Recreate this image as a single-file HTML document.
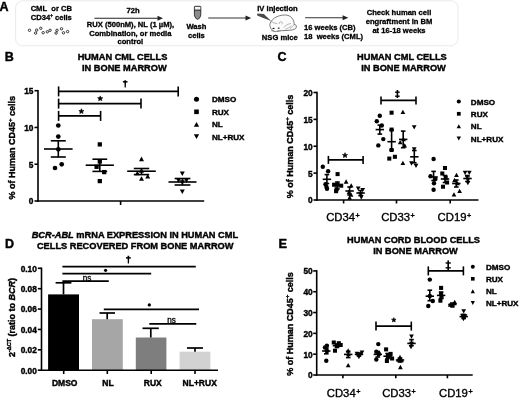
<!DOCTYPE html><html><head><meta charset="utf-8"><style>html,body{margin:0;padding:0;background:#fff;}svg{display:block;filter:grayscale(100%) blur(0.25px);}text{font-family:"Liberation Sans",sans-serif;}</style></head><body>
<svg width="520" height="398" viewBox="0 0 520 398">
<rect width="520" height="398" fill="#fff"/>
<text x="-0.60" y="10.60" font-size="12.5" font-weight="bold" text-anchor="start" fill="#000" stroke="#000" stroke-width="0.4">A</text>
<rect x="15.6" y="0.8" width="442.4" height="45" rx="7" ry="7" fill="none" stroke="#eaeaea" stroke-width="1"/>
<text x="51.30" y="11.20" font-size="7.6" font-weight="bold" text-anchor="middle" fill="#000" stroke="#000" stroke-width="0.3">CML&#160;&#160;or CB</text>
<text x="51.30" y="19.70" font-size="7.6" font-weight="bold" text-anchor="middle" fill="#000" stroke="#000" stroke-width="0.3">CD34<tspan font-size="4.5" dy="-2.8">+</tspan><tspan dy="2.8"> cells</tspan></text>
<circle cx="29.5" cy="30.3" r="1.2" fill="none" stroke="#1a1a1a" stroke-width="0.85"/>
<circle cx="36.7" cy="30.1" r="1.2" fill="none" stroke="#1a1a1a" stroke-width="0.85"/>
<circle cx="35.6" cy="33.1" r="1.2" fill="none" stroke="#1a1a1a" stroke-width="0.85"/>
<circle cx="40.8" cy="28.3" r="1.2" fill="none" stroke="#1a1a1a" stroke-width="0.85"/>
<circle cx="43.2" cy="32.7" r="1.2" fill="none" stroke="#1a1a1a" stroke-width="0.85"/>
<circle cx="47.3" cy="31.8" r="1.2" fill="none" stroke="#1a1a1a" stroke-width="0.85"/>
<circle cx="50.1" cy="30.3" r="1.2" fill="none" stroke="#1a1a1a" stroke-width="0.85"/>
<circle cx="57" cy="30.3" r="1.2" fill="none" stroke="#1a1a1a" stroke-width="0.85"/>
<circle cx="56.1" cy="33.1" r="1.2" fill="none" stroke="#1a1a1a" stroke-width="0.85"/>
<circle cx="61.5" cy="28.8" r="1.2" fill="none" stroke="#1a1a1a" stroke-width="0.85"/>
<circle cx="63.5" cy="32.8" r="1.2" fill="none" stroke="#1a1a1a" stroke-width="0.85"/>
<circle cx="67.6" cy="31.6" r="1.2" fill="none" stroke="#1a1a1a" stroke-width="0.85"/>
<text x="133.00" y="13.00" font-size="7.6" font-weight="bold" text-anchor="middle" fill="#000" stroke="#000" stroke-width="0.3">72h</text>
<line x1="94.40" y1="18.30" x2="159.00" y2="18.30" stroke="#222" stroke-width="1.1"/>
<path d="M163 18.3L157.5 15.8L157.5 20.8Z" fill="#222"/>
<text x="130.50" y="27.00" font-size="7.6" font-weight="bold" text-anchor="middle" fill="#000" stroke="#000" stroke-width="0.3">RUX (500nM), NL (1 µM),</text>
<text x="130.30" y="35.60" font-size="7.6" font-weight="bold" text-anchor="middle" fill="#000" stroke="#000" stroke-width="0.3">Combination, or media</text>
<text x="130.30" y="43.90" font-size="7.6" font-weight="bold" text-anchor="middle" fill="#000" stroke="#000" stroke-width="0.3">control</text>
<path d="M194.4 6.9 Q194.4 6.3 195 6.3 L200.2 6.3 Q200.8 6.3 200.8 6.9 L200.8 14.5 Q200.8 16 199.6 17.9 Q198.7 19.3 197.6 19.3 Q196.5 19.3 195.6 17.9 Q194.4 16 194.4 14.5 Z" fill="#8c8c8c" stroke="#222" stroke-width="0.9"/>
<rect x="194.9" y="6.9" width="5.4" height="2.8" fill="#f4f4f4"/>
<line x1="194.40" y1="10.20" x2="200.80" y2="10.20" stroke="#222" stroke-width="0.9"/>
<text x="196.40" y="28.60" font-size="7.6" font-weight="bold" text-anchor="middle" fill="#000" stroke="#000" stroke-width="0.3">Wash</text>
<text x="196.40" y="37.80" font-size="7.6" font-weight="bold" text-anchor="middle" fill="#000" stroke="#000" stroke-width="0.3">cells</text>
<line x1="208.20" y1="18.00" x2="246.00" y2="18.00" stroke="#333" stroke-width="1.1"/>
<path d="M251.2 18L245.5 15.5L245.5 20.5Z" fill="#222"/>
<text x="277.50" y="10.70" font-size="7.6" font-weight="bold" text-anchor="middle" fill="#000" stroke="#000" stroke-width="0.3">IV injection</text>
<path d="M257.2 13.6 L263.8 13.9 L271.2 21 L262 17.6 L257.2 15.6 Z" fill="#4a4a4a"/>
<path d="M269.8 24.5 C270.5 21 273.5 18 277 16.6 C280.5 15 285 14.6 288 15.4 C291 16.2 293 18.8 293.9 21.8 C294.2 23 294.2 24 294 24.4 C295.5 24.3 296.6 25.5 296.4 27 C296.2 28.6 294.5 29.6 292.5 29.9 C289 30.4 285 30.6 281.5 30.7 C279 30.9 277 31.4 275.5 31.6 C273.5 31.4 271.8 30 271 28.5 C270.2 27.2 269.7 25.8 269.8 24.5 Z" fill="#fbfbfb" stroke="#5e5e5e" stroke-width="0.8"/>
<path d="M279.2 24 C279 22.5 280 21.6 281.3 21.8 C282.4 22 282.6 23.4 281.8 24.3 M283.5 27.8 C285.5 25.5 288 23.8 291 23.5 M294 24.4 C293.5 26 292 27.5 290 28.5 M271.2 21.6 C273 22.6 275 23.4 277.2 23.6 M285 29.5 C287.5 28.5 289.5 27.5 291.5 26" fill="none" stroke="#8a8a8a" stroke-width="0.6"/>
<ellipse cx="273.5" cy="28.4" rx="1.05" ry="0.7" fill="#111"/><ellipse cx="278.7" cy="28.1" rx="1.05" ry="0.7" fill="#111"/>
<path d="M271 30.6 L274.5 31.3 M277 31.2 L280.5 30.8" stroke="#555" stroke-width="0.55"/>
<text x="279.80" y="39.60" font-size="7.6" font-weight="bold" text-anchor="middle" fill="#000" stroke="#000" stroke-width="0.3">NSG mice</text>
<line x1="305.10" y1="17.70" x2="343.00" y2="17.70" stroke="#333" stroke-width="1.1"/>
<path d="M348.3 17.7L342.6 15.2L342.6 20.2Z" fill="#222"/>
<text x="304.00" y="30.20" font-size="7.6" font-weight="bold" text-anchor="start" fill="#000" stroke="#000" stroke-width="0.3">16 weeks (CB)</text>
<text x="304.00" y="39.20" font-size="7.6" font-weight="bold" text-anchor="start" fill="#000" stroke="#000" stroke-width="0.3">18&#160;&#160;weeks (CML)</text>
<text x="399.00" y="15.00" font-size="7.6" font-weight="bold" text-anchor="middle" fill="#000" stroke="#000" stroke-width="0.3">Check human cell</text>
<text x="399.00" y="24.00" font-size="7.6" font-weight="bold" text-anchor="middle" fill="#000" stroke="#000" stroke-width="0.3">engraftment in BM</text>
<text x="399.00" y="32.70" font-size="7.6" font-weight="bold" text-anchor="middle" fill="#000" stroke="#000" stroke-width="0.3">at 16-18 weeks</text>
<text x="4.80" y="60.80" font-size="12.5" font-weight="bold" text-anchor="start" fill="#000" stroke="#000" stroke-width="0.4">B</text>
<text transform="translate(122.50,59.70) scale(1,1.06)" x="0" y="0" font-size="9.25" font-weight="bold" text-anchor="middle" fill="#000" stroke="#000" stroke-width="0.4">HUMAN CML CELLS</text>
<text transform="translate(124.35,70.50) scale(1,1.06)" x="0" y="0" font-size="9.25" font-weight="bold" text-anchor="middle" fill="#000" stroke="#000" stroke-width="0.4">IN BONE MARROW</text>
<line x1="38.00" y1="89.90" x2="38.00" y2="201.80" stroke="#000" stroke-width="1.6"/>
<line x1="37.20" y1="201.00" x2="204.20" y2="201.00" stroke="#000" stroke-width="1.6"/>
<line x1="120.60" y1="201.00" x2="120.60" y2="205.00" stroke="#000" stroke-width="1.6"/>
<line x1="34.50" y1="201.00" x2="38.00" y2="201.00" stroke="#000" stroke-width="1.6"/>
<text x="33.40" y="204.40" font-size="8.3" font-weight="bold" text-anchor="end" fill="#000" stroke="#000" stroke-width="0.4">0</text>
<line x1="34.50" y1="164.23" x2="38.00" y2="164.23" stroke="#000" stroke-width="1.6"/>
<text x="33.40" y="167.63" font-size="8.3" font-weight="bold" text-anchor="end" fill="#000" stroke="#000" stroke-width="0.4">5</text>
<line x1="34.50" y1="127.47" x2="38.00" y2="127.47" stroke="#000" stroke-width="1.6"/>
<text x="33.40" y="130.87" font-size="8.3" font-weight="bold" text-anchor="end" fill="#000" stroke="#000" stroke-width="0.4">10</text>
<line x1="34.50" y1="90.70" x2="38.00" y2="90.70" stroke="#000" stroke-width="1.6"/>
<text x="33.40" y="94.10" font-size="8.3" font-weight="bold" text-anchor="end" fill="#000" stroke="#000" stroke-width="0.4">15</text>
<text transform="translate(15.20,147.70) rotate(-90)" x="0" y="0" font-size="9" font-weight="bold" text-anchor="middle" fill="#000" stroke="#000" stroke-width="0.4">% of Human CD45<tspan font-size="6" dy="-3.2">+</tspan><tspan dy="3.2"> cells</tspan></text>
<line x1="58.60" y1="91.40" x2="178.20" y2="91.40" stroke="#000" stroke-width="1.6"/>
<line x1="58.60" y1="86.40" x2="58.60" y2="96.40" stroke="#000" stroke-width="1.6"/>
<line x1="178.20" y1="86.40" x2="178.20" y2="96.40" stroke="#000" stroke-width="1.6"/>
<line x1="58.60" y1="103.60" x2="141.00" y2="103.60" stroke="#000" stroke-width="1.6"/>
<line x1="58.60" y1="98.60" x2="58.60" y2="108.60" stroke="#000" stroke-width="1.6"/>
<line x1="141.00" y1="98.60" x2="141.00" y2="108.60" stroke="#000" stroke-width="1.6"/>
<line x1="58.60" y1="115.90" x2="100.60" y2="115.90" stroke="#000" stroke-width="1.6"/>
<line x1="58.60" y1="110.90" x2="58.60" y2="120.90" stroke="#000" stroke-width="1.6"/>
<line x1="100.60" y1="110.90" x2="100.60" y2="120.90" stroke="#000" stroke-width="1.6"/>
<path d="M124.35 80.20L126.05 80.20L125.80 87.60L124.60 87.60Z" fill="#000"/>
<rect x="122.90" y="81.05" width="4.60" height="1.5" fill="#000"/>
<path d="M100.20 95.90L100.91 97.62L102.77 97.77L101.36 98.98L101.79 100.78L100.20 99.81L98.61 100.78L99.04 98.98L97.63 97.77L99.49 97.62Z" fill="#000" stroke="#000" stroke-width="0.6" stroke-linejoin="round"/>
<path d="M81.40 108.70L82.11 110.42L83.97 110.57L82.56 111.78L82.99 113.58L81.40 112.62L79.81 113.58L80.24 111.78L78.83 110.57L80.69 110.42Z" fill="#000" stroke="#000" stroke-width="0.6" stroke-linejoin="round"/>
<circle cx="58.30" cy="125.50" r="2.34" fill="#000"/>
<circle cx="58.30" cy="136.60" r="2.34" fill="#000"/>
<circle cx="58.30" cy="149.30" r="2.34" fill="#000"/>
<circle cx="61.70" cy="164.30" r="2.34" fill="#000"/>
<circle cx="55.00" cy="168.00" r="2.34" fill="#000"/>
<line x1="58.30" y1="140.80" x2="58.30" y2="157.00" stroke="#000" stroke-width="1.6"/>
<line x1="44.00" y1="149.00" x2="72.60" y2="149.00" stroke="#000" stroke-width="1.6"/>
<line x1="50.80" y1="140.80" x2="65.80" y2="140.80" stroke="#000" stroke-width="1.6"/>
<line x1="50.80" y1="157.00" x2="65.80" y2="157.00" stroke="#000" stroke-width="1.6"/>
<rect x="97.67" y="142.27" width="4.26" height="4.26" fill="#000"/>
<rect x="97.67" y="159.37" width="4.26" height="4.26" fill="#000"/>
<rect x="94.47" y="164.67" width="4.26" height="4.26" fill="#000"/>
<rect x="102.07" y="169.97" width="4.26" height="4.26" fill="#000"/>
<rect x="97.67" y="178.97" width="4.26" height="4.26" fill="#000"/>
<line x1="99.80" y1="159.20" x2="99.80" y2="171.40" stroke="#000" stroke-width="1.6"/>
<line x1="85.70" y1="165.20" x2="113.90" y2="165.20" stroke="#000" stroke-width="1.6"/>
<line x1="92.40" y1="159.20" x2="107.20" y2="159.20" stroke="#000" stroke-width="1.6"/>
<line x1="92.40" y1="171.40" x2="107.20" y2="171.40" stroke="#000" stroke-width="1.6"/>
<path d="M139.00 161.19L144.00 161.19L141.50 156.61Z" fill="#000"/>
<path d="M139.00 172.79L144.00 172.79L141.50 168.21Z" fill="#000"/>
<path d="M134.90 175.29L139.90 175.29L137.40 170.71Z" fill="#000"/>
<path d="M145.20 178.49L150.20 178.49L147.70 173.91Z" fill="#000"/>
<path d="M139.00 180.79L144.00 180.79L141.50 176.21Z" fill="#000"/>
<line x1="141.50" y1="168.50" x2="141.50" y2="174.60" stroke="#000" stroke-width="1.6"/>
<line x1="127.20" y1="171.20" x2="155.80" y2="171.20" stroke="#000" stroke-width="1.6"/>
<line x1="133.80" y1="168.50" x2="149.20" y2="168.50" stroke="#000" stroke-width="1.6"/>
<line x1="133.80" y1="174.60" x2="149.20" y2="174.60" stroke="#000" stroke-width="1.6"/>
<path d="M179.80 171.51L184.80 171.51L182.30 176.09Z" fill="#000"/>
<path d="M176.00 178.21L181.00 178.21L178.50 182.79Z" fill="#000"/>
<path d="M184.00 178.21L189.00 178.21L186.50 182.79Z" fill="#000"/>
<path d="M179.80 180.21L184.80 180.21L182.30 184.79Z" fill="#000"/>
<path d="M179.80 189.51L184.80 189.51L182.30 194.09Z" fill="#000"/>
<line x1="182.50" y1="178.50" x2="182.50" y2="185.00" stroke="#000" stroke-width="1.6"/>
<line x1="168.50" y1="182.00" x2="196.50" y2="182.00" stroke="#000" stroke-width="1.6"/>
<line x1="174.60" y1="178.50" x2="190.40" y2="178.50" stroke="#000" stroke-width="1.6"/>
<line x1="174.60" y1="185.00" x2="190.40" y2="185.00" stroke="#000" stroke-width="1.6"/>
<circle cx="196.50" cy="99.20" r="2.53" fill="#000"/>
<text x="211.90" y="102.20" font-size="8.1" font-weight="bold" text-anchor="start" fill="#000" stroke="#000" stroke-width="0.4">DMSO</text>
<rect x="194.20" y="109.50" width="4.61" height="4.61" fill="#000"/>
<text x="211.90" y="114.80" font-size="8.1" font-weight="bold" text-anchor="start" fill="#000" stroke="#000" stroke-width="0.4">RUX</text>
<path d="M193.80 126.87L199.20 126.87L196.50 121.93Z" fill="#000"/>
<text x="211.90" y="127.40" font-size="8.1" font-weight="bold" text-anchor="start" fill="#000" stroke="#000" stroke-width="0.4">NL</text>
<path d="M193.80 134.13L199.20 134.13L196.50 139.07Z" fill="#000"/>
<text x="211.90" y="139.60" font-size="8.1" font-weight="bold" text-anchor="start" fill="#000" stroke="#000" stroke-width="0.4">NL+RUX</text>
<text x="277.40" y="60.90" font-size="12.5" font-weight="bold" text-anchor="start" fill="#000" stroke="#000" stroke-width="0.4">C</text>
<text transform="translate(401.90,59.70) scale(1,1.06)" x="0" y="0" font-size="9.25" font-weight="bold" text-anchor="middle" fill="#000" stroke="#000" stroke-width="0.4">HUMAN CML CELLS</text>
<text transform="translate(403.50,70.50) scale(1,1.06)" x="0" y="0" font-size="9.25" font-weight="bold" text-anchor="middle" fill="#000" stroke="#000" stroke-width="0.4">IN BONE MARROW</text>
<line x1="317.00" y1="91.70" x2="317.00" y2="200.80" stroke="#000" stroke-width="1.6"/>
<line x1="316.20" y1="200.00" x2="478.50" y2="200.00" stroke="#000" stroke-width="1.6"/>
<line x1="313.50" y1="200.00" x2="317.00" y2="200.00" stroke="#000" stroke-width="1.6"/>
<text x="312.70" y="203.40" font-size="8.3" font-weight="bold" text-anchor="end" fill="#000" stroke="#000" stroke-width="0.4">0</text>
<line x1="313.50" y1="173.12" x2="317.00" y2="173.12" stroke="#000" stroke-width="1.6"/>
<text x="312.70" y="176.53" font-size="8.3" font-weight="bold" text-anchor="end" fill="#000" stroke="#000" stroke-width="0.4">5</text>
<line x1="313.50" y1="146.25" x2="317.00" y2="146.25" stroke="#000" stroke-width="1.6"/>
<text x="312.70" y="149.65" font-size="8.3" font-weight="bold" text-anchor="end" fill="#000" stroke="#000" stroke-width="0.4">10</text>
<line x1="313.50" y1="119.38" x2="317.00" y2="119.38" stroke="#000" stroke-width="1.6"/>
<text x="312.70" y="122.78" font-size="8.3" font-weight="bold" text-anchor="end" fill="#000" stroke="#000" stroke-width="0.4">15</text>
<line x1="313.50" y1="92.50" x2="317.00" y2="92.50" stroke="#000" stroke-width="1.6"/>
<text x="312.70" y="95.90" font-size="8.3" font-weight="bold" text-anchor="end" fill="#000" stroke="#000" stroke-width="0.4">20</text>
<line x1="343.60" y1="200.00" x2="343.60" y2="203.50" stroke="#000" stroke-width="1.6"/>
<line x1="396.50" y1="200.00" x2="396.50" y2="203.50" stroke="#000" stroke-width="1.6"/>
<line x1="450.20" y1="200.00" x2="450.20" y2="203.50" stroke="#000" stroke-width="1.6"/>
<text transform="translate(292.50,146.50) rotate(-90)" x="0" y="0" font-size="9" font-weight="bold" text-anchor="middle" fill="#000" stroke="#000" stroke-width="0.4">% of Human CD45<tspan font-size="6" dy="-3.2">+</tspan><tspan dy="3.2"> cells</tspan></text>
<text x="326.20" y="221.30" font-size="11.3" font-weight="normal" fill="#000" stroke="#000" stroke-width="0.35">CD34<tspan font-size="7.2" font-weight="bold" stroke-width="0.25" dx="0.5" dy="-3.2">+</tspan></text>
<text x="381.20" y="221.30" font-size="11.3" font-weight="normal" fill="#000" stroke="#000" stroke-width="0.35">CD33<tspan font-size="7.2" font-weight="bold" stroke-width="0.25" dx="0.5" dy="-3.2">+</tspan></text>
<text x="437.60" y="221.30" font-size="11.3" font-weight="normal" fill="#000" stroke="#000" stroke-width="0.35">CD19<tspan font-size="7.2" font-weight="bold" stroke-width="0.25" dx="0.5" dy="-3.2">+</tspan></text>
<line x1="328.40" y1="159.90" x2="363.10" y2="159.90" stroke="#000" stroke-width="1.6"/>
<line x1="328.40" y1="155.90" x2="328.40" y2="163.90" stroke="#000" stroke-width="1.6"/>
<line x1="363.10" y1="155.90" x2="363.10" y2="163.90" stroke="#000" stroke-width="1.6"/>
<path d="M345.00 152.70L345.71 154.42L347.57 154.57L346.16 155.78L346.59 157.58L345.00 156.62L343.41 157.58L343.84 155.78L342.43 154.57L344.29 154.42Z" fill="#000" stroke="#000" stroke-width="0.6" stroke-linejoin="round"/>
<line x1="381.00" y1="100.40" x2="416.00" y2="100.40" stroke="#000" stroke-width="1.6"/>
<line x1="381.00" y1="96.40" x2="381.00" y2="104.40" stroke="#000" stroke-width="1.6"/>
<line x1="416.00" y1="96.40" x2="416.00" y2="104.40" stroke="#000" stroke-width="1.6"/>
<rect x="396.60" y="90.00" width="1.6" height="8.00" fill="#000"/>
<rect x="395.10" y="91.50" width="4.60" height="1.4" fill="#000"/>
<rect x="395.10" y="95.50" width="4.60" height="1.4" fill="#000"/>
<circle cx="322.80" cy="166.80" r="2.22" fill="#000"/>
<circle cx="328.10" cy="171.30" r="2.22" fill="#000"/>
<circle cx="325.50" cy="184.20" r="2.22" fill="#000"/>
<circle cx="326.50" cy="187.00" r="2.22" fill="#000"/>
<circle cx="327.00" cy="188.70" r="2.22" fill="#000"/>
<line x1="326.90" y1="174.60" x2="326.90" y2="183.50" stroke="#000" stroke-width="1.6"/>
<line x1="322.70" y1="179.30" x2="331.10" y2="179.30" stroke="#000" stroke-width="1.6"/>
<line x1="324.60" y1="174.60" x2="329.20" y2="174.60" stroke="#000" stroke-width="1.6"/>
<line x1="324.60" y1="183.50" x2="329.20" y2="183.50" stroke="#000" stroke-width="1.6"/>
<rect x="335.57" y="172.07" width="4.05" height="4.05" fill="#000"/>
<rect x="332.07" y="182.67" width="4.05" height="4.05" fill="#000"/>
<rect x="335.57" y="182.67" width="4.05" height="4.05" fill="#000"/>
<rect x="339.17" y="183.67" width="4.05" height="4.05" fill="#000"/>
<rect x="334.57" y="187.17" width="4.05" height="4.05" fill="#000"/>
<rect x="334.07" y="189.17" width="4.05" height="4.05" fill="#000"/>
<line x1="337.40" y1="182.00" x2="337.40" y2="189.00" stroke="#000" stroke-width="1.6"/>
<line x1="333.20" y1="185.50" x2="341.60" y2="185.50" stroke="#000" stroke-width="1.6"/>
<line x1="335.10" y1="182.00" x2="339.70" y2="182.00" stroke="#000" stroke-width="1.6"/>
<line x1="335.10" y1="189.00" x2="339.70" y2="189.00" stroke="#000" stroke-width="1.6"/>
<path d="M343.73 183.67L348.47 183.67L346.10 179.33Z" fill="#000"/>
<path d="M348.83 187.47L353.57 187.47L351.20 183.13Z" fill="#000"/>
<path d="M346.63 194.17L351.37 194.17L349.00 189.83Z" fill="#000"/>
<path d="M347.23 199.67L351.97 199.67L349.60 195.33Z" fill="#000"/>
<path d="M348.63 196.67L353.37 196.67L351.00 192.33Z" fill="#000"/>
<line x1="349.60" y1="187.00" x2="349.60" y2="195.00" stroke="#000" stroke-width="1.6"/>
<line x1="345.40" y1="191.00" x2="353.80" y2="191.00" stroke="#000" stroke-width="1.6"/>
<line x1="347.30" y1="187.00" x2="351.90" y2="187.00" stroke="#000" stroke-width="1.6"/>
<line x1="347.30" y1="195.00" x2="351.90" y2="195.00" stroke="#000" stroke-width="1.6"/>
<path d="M355.83 186.53L360.57 186.53L358.20 190.87Z" fill="#000"/>
<path d="M360.33 187.93L365.07 187.93L362.70 192.27Z" fill="#000"/>
<path d="M358.23 192.13L362.97 192.13L360.60 196.47Z" fill="#000"/>
<path d="M358.93 195.33L363.67 195.33L361.30 199.67Z" fill="#000"/>
<line x1="360.60" y1="190.50" x2="360.60" y2="195.50" stroke="#000" stroke-width="1.6"/>
<line x1="356.40" y1="193.00" x2="364.80" y2="193.00" stroke="#000" stroke-width="1.6"/>
<line x1="358.30" y1="190.50" x2="362.90" y2="190.50" stroke="#000" stroke-width="1.6"/>
<line x1="358.30" y1="195.50" x2="362.90" y2="195.50" stroke="#000" stroke-width="1.6"/>
<circle cx="379.80" cy="115.70" r="2.22" fill="#000"/>
<circle cx="376.80" cy="121.30" r="2.22" fill="#000"/>
<circle cx="381.80" cy="125.50" r="2.22" fill="#000"/>
<circle cx="383.30" cy="139.10" r="2.22" fill="#000"/>
<circle cx="378.30" cy="145.40" r="2.22" fill="#000"/>
<line x1="379.80" y1="125.10" x2="379.80" y2="134.10" stroke="#000" stroke-width="1.6"/>
<line x1="375.60" y1="129.60" x2="384.00" y2="129.60" stroke="#000" stroke-width="1.6"/>
<line x1="377.50" y1="125.10" x2="382.10" y2="125.10" stroke="#000" stroke-width="1.6"/>
<line x1="377.50" y1="134.10" x2="382.10" y2="134.10" stroke="#000" stroke-width="1.6"/>
<rect x="389.57" y="110.67" width="4.05" height="4.05" fill="#000"/>
<rect x="389.57" y="127.57" width="4.05" height="4.05" fill="#000"/>
<rect x="389.57" y="147.97" width="4.05" height="4.05" fill="#000"/>
<rect x="387.27" y="156.57" width="4.05" height="4.05" fill="#000"/>
<rect x="392.87" y="154.77" width="4.05" height="4.05" fill="#000"/>
<line x1="391.60" y1="130.00" x2="391.60" y2="150.00" stroke="#000" stroke-width="1.6"/>
<line x1="387.40" y1="141.70" x2="395.80" y2="141.70" stroke="#000" stroke-width="1.6"/>
<line x1="389.30" y1="130.00" x2="393.90" y2="130.00" stroke="#000" stroke-width="1.6"/>
<line x1="389.30" y1="150.00" x2="393.90" y2="150.00" stroke="#000" stroke-width="1.6"/>
<path d="M400.53 113.97L405.27 113.97L402.90 109.63Z" fill="#000"/>
<path d="M397.83 144.27L402.57 144.27L400.20 139.93Z" fill="#000"/>
<path d="M402.33 147.57L407.07 147.57L404.70 143.23Z" fill="#000"/>
<path d="M400.53 164.97L405.27 164.97L402.90 160.63Z" fill="#000"/>
<path d="M401.13 141.17L405.87 141.17L403.50 136.83Z" fill="#000"/>
<line x1="403.20" y1="131.10" x2="403.20" y2="147.70" stroke="#000" stroke-width="1.6"/>
<line x1="399.00" y1="139.40" x2="407.40" y2="139.40" stroke="#000" stroke-width="1.6"/>
<line x1="400.90" y1="131.10" x2="405.50" y2="131.10" stroke="#000" stroke-width="1.6"/>
<line x1="400.90" y1="147.70" x2="405.50" y2="147.70" stroke="#000" stroke-width="1.6"/>
<path d="M411.83 125.13L416.57 125.13L414.20 129.47Z" fill="#000"/>
<path d="M411.83 147.33L416.57 147.33L414.20 151.67Z" fill="#000"/>
<path d="M409.13 161.33L413.87 161.33L411.50 165.67Z" fill="#000"/>
<path d="M413.63 163.63L418.37 163.63L416.00 167.97Z" fill="#000"/>
<line x1="414.30" y1="150.50" x2="414.30" y2="162.80" stroke="#000" stroke-width="1.6"/>
<line x1="410.10" y1="156.80" x2="418.50" y2="156.80" stroke="#000" stroke-width="1.6"/>
<line x1="412.00" y1="150.50" x2="416.60" y2="150.50" stroke="#000" stroke-width="1.6"/>
<line x1="412.00" y1="162.80" x2="416.60" y2="162.80" stroke="#000" stroke-width="1.6"/>
<circle cx="433.60" cy="159.00" r="2.22" fill="#000"/>
<circle cx="430.50" cy="176.30" r="2.22" fill="#000"/>
<circle cx="435.40" cy="179.00" r="2.22" fill="#000"/>
<circle cx="434.00" cy="183.20" r="2.22" fill="#000"/>
<circle cx="433.60" cy="189.80" r="2.22" fill="#000"/>
<line x1="433.60" y1="171.40" x2="433.60" y2="180.50" stroke="#000" stroke-width="1.6"/>
<line x1="429.40" y1="177.00" x2="437.80" y2="177.00" stroke="#000" stroke-width="1.6"/>
<line x1="431.30" y1="171.40" x2="435.90" y2="171.40" stroke="#000" stroke-width="1.6"/>
<line x1="431.30" y1="180.50" x2="435.90" y2="180.50" stroke="#000" stroke-width="1.6"/>
<rect x="442.97" y="165.97" width="4.05" height="4.05" fill="#000"/>
<rect x="440.27" y="171.47" width="4.05" height="4.05" fill="#000"/>
<rect x="443.67" y="175.67" width="4.05" height="4.05" fill="#000"/>
<rect x="445.07" y="180.47" width="4.05" height="4.05" fill="#000"/>
<rect x="440.97" y="184.67" width="4.05" height="4.05" fill="#000"/>
<line x1="445.00" y1="175.50" x2="445.00" y2="182.50" stroke="#000" stroke-width="1.6"/>
<line x1="440.80" y1="179.00" x2="449.20" y2="179.00" stroke="#000" stroke-width="1.6"/>
<line x1="442.70" y1="175.50" x2="447.30" y2="175.50" stroke="#000" stroke-width="1.6"/>
<line x1="442.70" y1="182.50" x2="447.30" y2="182.50" stroke="#000" stroke-width="1.6"/>
<path d="M454.13 177.07L458.87 177.07L456.50 172.73Z" fill="#000"/>
<path d="M452.13 182.17L456.87 182.17L454.50 177.83Z" fill="#000"/>
<path d="M455.13 185.37L459.87 185.37L457.50 181.03Z" fill="#000"/>
<path d="M457.23 192.97L461.97 192.97L459.60 188.63Z" fill="#000"/>
<path d="M451.63 196.47L456.37 196.47L454.00 192.13Z" fill="#000"/>
<line x1="456.30" y1="180.00" x2="456.30" y2="187.00" stroke="#000" stroke-width="1.6"/>
<line x1="452.10" y1="183.50" x2="460.50" y2="183.50" stroke="#000" stroke-width="1.6"/>
<line x1="454.00" y1="180.00" x2="458.60" y2="180.00" stroke="#000" stroke-width="1.6"/>
<line x1="454.00" y1="187.00" x2="458.60" y2="187.00" stroke="#000" stroke-width="1.6"/>
<path d="M462.73 170.63L467.47 170.63L465.10 174.97Z" fill="#000"/>
<path d="M466.93 170.63L471.67 170.63L469.30 174.97Z" fill="#000"/>
<path d="M464.63 174.83L469.37 174.83L467.00 179.17Z" fill="#000"/>
<path d="M465.53 181.03L470.27 181.03L467.90 185.37Z" fill="#000"/>
<path d="M465.63 177.83L470.37 177.83L468.00 182.17Z" fill="#000"/>
<line x1="467.50" y1="176.00" x2="467.50" y2="181.50" stroke="#000" stroke-width="1.6"/>
<line x1="463.30" y1="178.50" x2="471.70" y2="178.50" stroke="#000" stroke-width="1.6"/>
<line x1="465.20" y1="176.00" x2="469.80" y2="176.00" stroke="#000" stroke-width="1.6"/>
<line x1="465.20" y1="181.50" x2="469.80" y2="181.50" stroke="#000" stroke-width="1.6"/>
<circle cx="458.80" cy="101.50" r="2.06" fill="#000"/>
<text x="470.80" y="104.50" font-size="8.1" font-weight="bold" text-anchor="start" fill="#000" stroke="#000" stroke-width="0.4">DMSO</text>
<rect x="456.92" y="111.92" width="3.75" height="3.75" fill="#000"/>
<text x="470.80" y="116.80" font-size="8.1" font-weight="bold" text-anchor="start" fill="#000" stroke="#000" stroke-width="0.4">RUX</text>
<path d="M456.60 128.31L461.00 128.31L458.80 124.29Z" fill="#000"/>
<text x="470.80" y="129.30" font-size="8.1" font-weight="bold" text-anchor="start" fill="#000" stroke="#000" stroke-width="0.4">NL</text>
<path d="M456.60 136.49L461.00 136.49L458.80 140.51Z" fill="#000"/>
<text x="470.80" y="141.50" font-size="8.1" font-weight="bold" text-anchor="start" fill="#000" stroke="#000" stroke-width="0.4">NL+RUX</text>
<text x="4.90" y="247.80" font-size="12.5" font-weight="bold" text-anchor="start" fill="#000" stroke="#000" stroke-width="0.4">D</text>
<text transform="translate(134.90,237.70) scale(1,1.06)" x="0" y="0" font-size="9.25" font-weight="bold" text-anchor="middle" fill="#000" stroke="#000" stroke-width="0.4"><tspan font-style="italic">BCR-ABL</tspan> mRNA EXPRESSION IN HUMAN CML</text>
<text transform="translate(135.20,248.50) scale(1,1.06)" x="0" y="0" font-size="9.25" font-weight="bold" text-anchor="middle" fill="#000" stroke="#000" stroke-width="0.4">CELLS RECOVERED FROM BONE MARROW</text>
<rect x="48.1" y="294.40" width="30.90" height="75.80" fill="#000"/>
<rect x="92.0" y="319.20" width="30.80" height="51.00" fill="#a6a6a6"/>
<rect x="135.8" y="337.50" width="30.60" height="32.70" fill="#7e7e7e"/>
<rect x="179.6" y="351.70" width="30.80" height="18.50" fill="#d2d2d2"/>
<line x1="63.50" y1="294.40" x2="63.50" y2="282.80" stroke="#000" stroke-width="1.7"/>
<line x1="55.60" y1="282.80" x2="71.40" y2="282.80" stroke="#000" stroke-width="1.7"/>
<line x1="107.20" y1="319.20" x2="107.20" y2="313.00" stroke="#000" stroke-width="1.7"/>
<line x1="99.50" y1="313.00" x2="115.00" y2="313.00" stroke="#000" stroke-width="1.7"/>
<line x1="150.80" y1="337.50" x2="150.80" y2="328.30" stroke="#000" stroke-width="1.7"/>
<line x1="142.50" y1="328.30" x2="158.80" y2="328.30" stroke="#000" stroke-width="1.7"/>
<line x1="195.00" y1="351.70" x2="195.00" y2="348.00" stroke="#000" stroke-width="1.7"/>
<line x1="187.00" y1="348.00" x2="203.00" y2="348.00" stroke="#000" stroke-width="1.7"/>
<line x1="41.50" y1="267.50" x2="41.50" y2="371.00" stroke="#000" stroke-width="1.6"/>
<line x1="40.70" y1="370.20" x2="218.00" y2="370.20" stroke="#000" stroke-width="1.6"/>
<line x1="37.80" y1="370.20" x2="41.50" y2="370.20" stroke="#000" stroke-width="1.6"/>
<text x="36.80" y="373.50" font-size="8.3" font-weight="bold" text-anchor="end" fill="#000" stroke="#000" stroke-width="0.4">0.00</text>
<line x1="37.80" y1="349.82" x2="41.50" y2="349.82" stroke="#000" stroke-width="1.6"/>
<text x="36.80" y="353.12" font-size="8.3" font-weight="bold" text-anchor="end" fill="#000" stroke="#000" stroke-width="0.4">0.02</text>
<line x1="37.80" y1="329.44" x2="41.50" y2="329.44" stroke="#000" stroke-width="1.6"/>
<text x="36.80" y="332.74" font-size="8.3" font-weight="bold" text-anchor="end" fill="#000" stroke="#000" stroke-width="0.4">0.04</text>
<line x1="37.80" y1="309.06" x2="41.50" y2="309.06" stroke="#000" stroke-width="1.6"/>
<text x="36.80" y="312.36" font-size="8.3" font-weight="bold" text-anchor="end" fill="#000" stroke="#000" stroke-width="0.4">0.06</text>
<line x1="37.80" y1="288.68" x2="41.50" y2="288.68" stroke="#000" stroke-width="1.6"/>
<text x="36.80" y="291.98" font-size="8.3" font-weight="bold" text-anchor="end" fill="#000" stroke="#000" stroke-width="0.4">0.08</text>
<line x1="37.80" y1="268.30" x2="41.50" y2="268.30" stroke="#000" stroke-width="1.6"/>
<text x="36.80" y="271.60" font-size="8.3" font-weight="bold" text-anchor="end" fill="#000" stroke="#000" stroke-width="0.4">0.10</text>
<line x1="63.70" y1="370.20" x2="63.70" y2="374.00" stroke="#000" stroke-width="1.6"/>
<line x1="107.30" y1="370.20" x2="107.30" y2="374.00" stroke="#000" stroke-width="1.6"/>
<line x1="151.20" y1="370.20" x2="151.20" y2="374.00" stroke="#000" stroke-width="1.6"/>
<line x1="195.00" y1="370.20" x2="195.00" y2="374.00" stroke="#000" stroke-width="1.6"/>
<text x="64.70" y="386.00" font-size="8.5" font-weight="bold" text-anchor="middle" fill="#000" stroke="#000" stroke-width="0.4">DMSO</text>
<text x="108.00" y="386.00" font-size="8.5" font-weight="bold" text-anchor="middle" fill="#000" stroke="#000" stroke-width="0.4">NL</text>
<text x="152.80" y="386.00" font-size="8.5" font-weight="bold" text-anchor="middle" fill="#000" stroke="#000" stroke-width="0.4">RUX</text>
<text x="199.70" y="386.00" font-size="8.5" font-weight="bold" text-anchor="middle" fill="#000" stroke="#000" stroke-width="0.4">NL+RUX</text>
<text transform="translate(14.60,317.50) rotate(-90)" x="0" y="0" font-size="9" font-weight="bold" text-anchor="middle" fill="#000" stroke="#000" stroke-width="0.4">2<tspan font-size="5.5" dy="-3.2">-ΔCT</tspan><tspan dy="3.2"> (ratio to </tspan><tspan font-style="italic">BCR</tspan>)</text>
<line x1="62.40" y1="266.70" x2="195.80" y2="266.70" stroke="#000" stroke-width="1.75"/>
<line x1="62.40" y1="273.70" x2="151.20" y2="273.70" stroke="#000" stroke-width="1.75"/>
<line x1="62.40" y1="281.00" x2="108.80" y2="281.00" stroke="#000" stroke-width="1.75"/>
<line x1="103.80" y1="309.30" x2="199.00" y2="309.30" stroke="#000" stroke-width="1.75"/>
<line x1="149.30" y1="323.80" x2="196.30" y2="323.80" stroke="#000" stroke-width="1.75"/>
<path d="M127.55 255.80L129.25 255.80L129.00 263.60L127.80 263.60Z" fill="#000"/>
<rect x="126.00" y="257.15" width="4.80" height="1.5" fill="#000"/>
<circle cx="105.6" cy="270.3" r="1.65" fill="#000"/>
<circle cx="149.3" cy="304.9" r="1.65" fill="#000"/>
<text x="87.10" y="280.50" font-size="8.2" font-weight="normal" text-anchor="middle" fill="#000" stroke="#000" stroke-width="0.3">ns</text>
<text x="171.50" y="322.70" font-size="8.2" font-weight="normal" text-anchor="middle" fill="#000" stroke="#000" stroke-width="0.3">ns</text>
<text x="278.40" y="247.50" font-size="12.8" font-weight="bold" text-anchor="start" fill="#000" stroke="#000" stroke-width="0.4">E</text>
<text transform="translate(413.50,242.50) scale(1,1.06)" x="0" y="0" font-size="9.25" font-weight="bold" text-anchor="middle" fill="#000" stroke="#000" stroke-width="0.4">HUMAN CORD BLOOD CELLS</text>
<text transform="translate(415.50,253.90) scale(1,1.06)" x="0" y="0" font-size="9.25" font-weight="bold" text-anchor="middle" fill="#000" stroke="#000" stroke-width="0.4">IN BONE MARROW</text>
<line x1="316.70" y1="270.10" x2="316.70" y2="375.80" stroke="#000" stroke-width="1.6"/>
<line x1="315.90" y1="375.00" x2="472.70" y2="375.00" stroke="#000" stroke-width="1.6"/>
<line x1="313.20" y1="375.00" x2="316.70" y2="375.00" stroke="#000" stroke-width="1.6"/>
<text x="312.70" y="378.40" font-size="8.3" font-weight="bold" text-anchor="end" fill="#000" stroke="#000" stroke-width="0.4">0</text>
<line x1="313.20" y1="354.18" x2="316.70" y2="354.18" stroke="#000" stroke-width="1.6"/>
<text x="312.70" y="357.58" font-size="8.3" font-weight="bold" text-anchor="end" fill="#000" stroke="#000" stroke-width="0.4">10</text>
<line x1="313.20" y1="333.36" x2="316.70" y2="333.36" stroke="#000" stroke-width="1.6"/>
<text x="312.70" y="336.76" font-size="8.3" font-weight="bold" text-anchor="end" fill="#000" stroke="#000" stroke-width="0.4">20</text>
<line x1="313.20" y1="312.54" x2="316.70" y2="312.54" stroke="#000" stroke-width="1.6"/>
<text x="312.70" y="315.94" font-size="8.3" font-weight="bold" text-anchor="end" fill="#000" stroke="#000" stroke-width="0.4">30</text>
<line x1="313.20" y1="291.72" x2="316.70" y2="291.72" stroke="#000" stroke-width="1.6"/>
<text x="312.70" y="295.12" font-size="8.3" font-weight="bold" text-anchor="end" fill="#000" stroke="#000" stroke-width="0.4">40</text>
<line x1="313.20" y1="270.90" x2="316.70" y2="270.90" stroke="#000" stroke-width="1.6"/>
<text x="312.70" y="274.30" font-size="8.3" font-weight="bold" text-anchor="end" fill="#000" stroke="#000" stroke-width="0.4">50</text>
<line x1="342.90" y1="375.00" x2="342.90" y2="378.30" stroke="#000" stroke-width="1.6"/>
<line x1="395.80" y1="375.00" x2="395.80" y2="378.30" stroke="#000" stroke-width="1.6"/>
<line x1="447.40" y1="375.00" x2="447.40" y2="378.30" stroke="#000" stroke-width="1.6"/>
<text transform="translate(292.60,324.00) rotate(-90)" x="0" y="0" font-size="9" font-weight="bold" text-anchor="middle" fill="#000" stroke="#000" stroke-width="0.4">% of Human CD45<tspan font-size="6" dy="-3.2">+</tspan><tspan dy="3.2"> cells</tspan></text>
<text x="326.80" y="397.00" font-size="11.3" font-weight="normal" fill="#000" stroke="#000" stroke-width="0.35">CD34<tspan font-size="7.2" font-weight="bold" stroke-width="0.25" dx="0.5" dy="-3.2">+</tspan></text>
<text x="382.20" y="397.00" font-size="11.3" font-weight="normal" fill="#000" stroke="#000" stroke-width="0.35">CD33<tspan font-size="7.2" font-weight="bold" stroke-width="0.25" dx="0.5" dy="-3.2">+</tspan></text>
<text x="439.00" y="397.00" font-size="11.3" font-weight="normal" fill="#000" stroke="#000" stroke-width="0.35">CD19<tspan font-size="7.2" font-weight="bold" stroke-width="0.25" dx="0.5" dy="-3.2">+</tspan></text>
<line x1="376.00" y1="326.10" x2="411.30" y2="326.10" stroke="#000" stroke-width="1.6"/>
<line x1="376.00" y1="321.60" x2="376.00" y2="330.60" stroke="#000" stroke-width="1.6"/>
<line x1="411.30" y1="321.60" x2="411.30" y2="330.60" stroke="#000" stroke-width="1.6"/>
<path d="M393.80 317.60L394.43 319.13L396.08 319.26L394.83 320.33L395.21 321.94L393.80 321.08L392.39 321.94L392.77 320.33L391.52 319.26L393.17 319.13Z" fill="#000" stroke="#000" stroke-width="0.6" stroke-linejoin="round"/>
<line x1="428.30" y1="270.90" x2="463.40" y2="270.90" stroke="#000" stroke-width="1.6"/>
<line x1="428.30" y1="266.40" x2="428.30" y2="275.40" stroke="#000" stroke-width="1.6"/>
<line x1="463.40" y1="266.40" x2="463.40" y2="275.40" stroke="#000" stroke-width="1.6"/>
<rect x="447.40" y="260.40" width="1.6" height="10.50" fill="#000"/>
<rect x="445.60" y="262.30" width="5.20" height="1.4" fill="#000"/>
<rect x="445.60" y="267.10" width="5.20" height="1.4" fill="#000"/>
<circle cx="326.90" cy="345.70" r="2.22" fill="#000"/>
<circle cx="325.00" cy="347.50" r="2.22" fill="#000"/>
<circle cx="326.30" cy="360.70" r="2.22" fill="#000"/>
<circle cx="327.00" cy="351.00" r="2.22" fill="#000"/>
<line x1="326.30" y1="348.20" x2="326.30" y2="353.80" stroke="#000" stroke-width="1.6"/>
<line x1="322.10" y1="351.00" x2="330.50" y2="351.00" stroke="#000" stroke-width="1.6"/>
<line x1="324.00" y1="348.20" x2="328.60" y2="348.20" stroke="#000" stroke-width="1.6"/>
<line x1="324.00" y1="353.80" x2="328.60" y2="353.80" stroke="#000" stroke-width="1.6"/>
<rect x="331.77" y="340.47" width="4.05" height="4.05" fill="#000"/>
<rect x="336.77" y="341.17" width="4.05" height="4.05" fill="#000"/>
<rect x="334.97" y="343.67" width="4.05" height="4.05" fill="#000"/>
<rect x="338.67" y="342.97" width="4.05" height="4.05" fill="#000"/>
<rect x="332.97" y="348.67" width="4.05" height="4.05" fill="#000"/>
<line x1="337.00" y1="344.00" x2="337.00" y2="347.50" stroke="#000" stroke-width="1.6"/>
<line x1="332.80" y1="345.70" x2="341.20" y2="345.70" stroke="#000" stroke-width="1.6"/>
<line x1="334.70" y1="344.00" x2="339.30" y2="344.00" stroke="#000" stroke-width="1.6"/>
<line x1="334.70" y1="347.50" x2="339.30" y2="347.50" stroke="#000" stroke-width="1.6"/>
<path d="M345.83 352.67L350.57 352.67L348.20 348.33Z" fill="#000"/>
<path d="M345.83 367.27L350.57 367.27L348.20 362.93Z" fill="#000"/>
<path d="M346.13 356.17L350.87 356.17L348.50 351.83Z" fill="#000"/>
<line x1="348.20" y1="351.30" x2="348.20" y2="357.60" stroke="#000" stroke-width="1.6"/>
<line x1="344.00" y1="354.40" x2="352.40" y2="354.40" stroke="#000" stroke-width="1.6"/>
<line x1="345.90" y1="351.30" x2="350.50" y2="351.30" stroke="#000" stroke-width="1.6"/>
<line x1="345.90" y1="357.60" x2="350.50" y2="357.60" stroke="#000" stroke-width="1.6"/>
<path d="M354.63 351.63L359.37 351.63L357.00 355.97Z" fill="#000"/>
<path d="M359.63 350.43L364.37 350.43L362.00 354.77Z" fill="#000"/>
<path d="M356.53 354.83L361.27 354.83L358.90 359.17Z" fill="#000"/>
<path d="M357.63 352.83L362.37 352.83L360.00 357.17Z" fill="#000"/>
<line x1="359.00" y1="353.00" x2="359.00" y2="356.00" stroke="#000" stroke-width="1.6"/>
<line x1="354.80" y1="354.40" x2="363.20" y2="354.40" stroke="#000" stroke-width="1.6"/>
<line x1="356.70" y1="353.00" x2="361.30" y2="353.00" stroke="#000" stroke-width="1.6"/>
<line x1="356.70" y1="356.00" x2="361.30" y2="356.00" stroke="#000" stroke-width="1.6"/>
<circle cx="378.30" cy="344.10" r="2.22" fill="#000"/>
<circle cx="376.30" cy="351.70" r="2.22" fill="#000"/>
<circle cx="379.00" cy="354.00" r="2.22" fill="#000"/>
<circle cx="376.30" cy="359.50" r="2.22" fill="#000"/>
<line x1="377.80" y1="351.50" x2="377.80" y2="357.00" stroke="#000" stroke-width="1.6"/>
<line x1="373.60" y1="354.40" x2="382.00" y2="354.40" stroke="#000" stroke-width="1.6"/>
<line x1="375.50" y1="351.50" x2="380.10" y2="351.50" stroke="#000" stroke-width="1.6"/>
<line x1="375.50" y1="357.00" x2="380.10" y2="357.00" stroke="#000" stroke-width="1.6"/>
<rect x="384.07" y="347.37" width="4.05" height="4.05" fill="#000"/>
<rect x="388.57" y="351.87" width="4.05" height="4.05" fill="#000"/>
<rect x="385.97" y="353.97" width="4.05" height="4.05" fill="#000"/>
<rect x="390.07" y="356.47" width="4.05" height="4.05" fill="#000"/>
<rect x="384.87" y="358.97" width="4.05" height="4.05" fill="#000"/>
<line x1="387.60" y1="353.50" x2="387.60" y2="358.50" stroke="#000" stroke-width="1.6"/>
<line x1="383.40" y1="356.20" x2="391.80" y2="356.20" stroke="#000" stroke-width="1.6"/>
<line x1="385.30" y1="353.50" x2="389.90" y2="353.50" stroke="#000" stroke-width="1.6"/>
<line x1="385.30" y1="358.50" x2="389.90" y2="358.50" stroke="#000" stroke-width="1.6"/>
<path d="M397.63 359.17L402.37 359.17L400.00 354.83Z" fill="#000"/>
<path d="M396.13 361.67L400.87 361.67L398.50 357.33Z" fill="#000"/>
<path d="M399.13 362.17L403.87 362.17L401.50 357.83Z" fill="#000"/>
<path d="M398.03 369.17L402.77 369.17L400.40 364.83Z" fill="#000"/>
<line x1="400.00" y1="358.00" x2="400.00" y2="362.00" stroke="#000" stroke-width="1.6"/>
<line x1="395.80" y1="360.00" x2="404.20" y2="360.00" stroke="#000" stroke-width="1.6"/>
<line x1="397.70" y1="358.00" x2="402.30" y2="358.00" stroke="#000" stroke-width="1.6"/>
<line x1="397.70" y1="362.00" x2="402.30" y2="362.00" stroke="#000" stroke-width="1.6"/>
<path d="M409.13 334.43L413.87 334.43L411.50 338.77Z" fill="#000"/>
<path d="M408.63 344.93L413.37 344.93L411.00 349.27Z" fill="#000"/>
<path d="M409.13 341.83L413.87 341.83L411.50 346.17Z" fill="#000"/>
<line x1="411.50" y1="339.60" x2="411.50" y2="345.60" stroke="#000" stroke-width="1.6"/>
<line x1="407.30" y1="343.40" x2="415.70" y2="343.40" stroke="#000" stroke-width="1.6"/>
<line x1="409.20" y1="339.60" x2="413.80" y2="339.60" stroke="#000" stroke-width="1.6"/>
<line x1="409.20" y1="345.60" x2="413.80" y2="345.60" stroke="#000" stroke-width="1.6"/>
<circle cx="429.80" cy="279.60" r="2.22" fill="#000"/>
<circle cx="432.80" cy="301.00" r="2.22" fill="#000"/>
<circle cx="428.30" cy="306.00" r="2.22" fill="#000"/>
<circle cx="429.80" cy="296.00" r="2.22" fill="#000"/>
<line x1="429.80" y1="290.20" x2="429.80" y2="300.70" stroke="#000" stroke-width="1.6"/>
<line x1="425.60" y1="296.20" x2="434.00" y2="296.20" stroke="#000" stroke-width="1.6"/>
<line x1="427.50" y1="290.20" x2="432.10" y2="290.20" stroke="#000" stroke-width="1.6"/>
<line x1="427.50" y1="300.70" x2="432.10" y2="300.70" stroke="#000" stroke-width="1.6"/>
<rect x="439.07" y="285.87" width="4.05" height="4.05" fill="#000"/>
<rect x="439.07" y="291.97" width="4.05" height="4.05" fill="#000"/>
<rect x="438.37" y="298.67" width="4.05" height="4.05" fill="#000"/>
<rect x="439.47" y="294.97" width="4.05" height="4.05" fill="#000"/>
<line x1="441.10" y1="292.00" x2="441.10" y2="298.50" stroke="#000" stroke-width="1.6"/>
<line x1="436.90" y1="295.40" x2="445.30" y2="295.40" stroke="#000" stroke-width="1.6"/>
<line x1="438.80" y1="292.00" x2="443.40" y2="292.00" stroke="#000" stroke-width="1.6"/>
<line x1="438.80" y1="298.50" x2="443.40" y2="298.50" stroke="#000" stroke-width="1.6"/>
<path d="M447.83 306.67L452.57 306.67L450.20 302.33Z" fill="#000"/>
<path d="M452.33 304.07L457.07 304.07L454.70 299.73Z" fill="#000"/>
<path d="M450.03 307.67L454.77 307.67L452.40 303.33Z" fill="#000"/>
<line x1="452.40" y1="303.00" x2="452.40" y2="306.00" stroke="#000" stroke-width="1.6"/>
<line x1="448.20" y1="304.50" x2="456.60" y2="304.50" stroke="#000" stroke-width="1.6"/>
<line x1="450.10" y1="303.00" x2="454.70" y2="303.00" stroke="#000" stroke-width="1.6"/>
<line x1="450.10" y1="306.00" x2="454.70" y2="306.00" stroke="#000" stroke-width="1.6"/>
<path d="M461.33 309.13L466.07 309.13L463.70 313.47Z" fill="#000"/>
<path d="M461.33 315.13L466.07 315.13L463.70 319.47Z" fill="#000"/>
<path d="M460.13 313.83L464.87 313.83L462.50 318.17Z" fill="#000"/>
<path d="M462.63 314.33L467.37 314.33L465.00 318.67Z" fill="#000"/>
<path d="M461.13 316.83L465.87 316.83L463.50 321.17Z" fill="#000"/>
<line x1="463.70" y1="314.50" x2="463.70" y2="318.50" stroke="#000" stroke-width="1.6"/>
<line x1="459.50" y1="316.60" x2="467.90" y2="316.60" stroke="#000" stroke-width="1.6"/>
<line x1="461.40" y1="314.50" x2="466.00" y2="314.50" stroke="#000" stroke-width="1.6"/>
<line x1="461.40" y1="318.50" x2="466.00" y2="318.50" stroke="#000" stroke-width="1.6"/>
<circle cx="472.80" cy="266.80" r="1.99" fill="#000"/>
<text x="485.90" y="269.80" font-size="8.1" font-weight="bold" text-anchor="start" fill="#000" stroke="#000" stroke-width="0.4">DMSO</text>
<rect x="470.99" y="276.99" width="3.62" height="3.62" fill="#000"/>
<text x="485.90" y="281.80" font-size="8.1" font-weight="bold" text-anchor="start" fill="#000" stroke="#000" stroke-width="0.4">RUX</text>
<path d="M470.68 293.14L474.92 293.14L472.80 289.26Z" fill="#000"/>
<text x="485.90" y="294.20" font-size="8.1" font-weight="bold" text-anchor="start" fill="#000" stroke="#000" stroke-width="0.4">NL</text>
<path d="M470.68 301.06L474.92 301.06L472.80 304.94Z" fill="#000"/>
<text x="485.90" y="306.00" font-size="8.1" font-weight="bold" text-anchor="start" fill="#000" stroke="#000" stroke-width="0.4">NL+RUX</text>
</svg></body></html>
